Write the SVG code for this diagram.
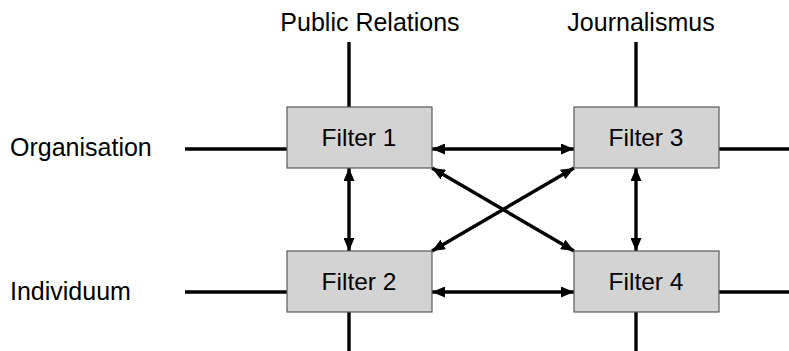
<svg xmlns="http://www.w3.org/2000/svg" width="789" height="351" viewBox="0 0 789 351">
  <defs>
    <marker id="tip" viewBox="0 0 13 11" refX="13" refY="5.5" markerWidth="13" markerHeight="11" markerUnits="userSpaceOnUse" orient="auto-start-reverse">
      <path d="M0,0 L13,5.5 L0,11 Z" fill="#000"/>
    </marker>
  </defs>
  <style>
    .lbl { font-family: "Liberation Sans", Arial, sans-serif; font-size: 25px; fill: #000; }
    .flt { font-family: "Liberation Sans", Arial, sans-serif; font-size: 24.5px; fill: #000; }
    .box { fill: #d3d3d3; stroke: #5a5a5a; stroke-width: 1.2; }
    .ln { stroke: #000; stroke-width: 3.4; fill: none; }
    .arr { stroke: #000; stroke-width: 3.4; fill: none; marker-start: url(#tip); marker-end: url(#tip); }
  </style>
  <rect width="789" height="351" fill="#fff"/>

  <!-- axis labels -->
  <text class="lbl" x="370" y="31" text-anchor="middle">Public Relations</text>
  <text class="lbl" x="641" y="31" text-anchor="middle">Journalismus</text>
  <text class="lbl" x="10" y="156">Organisation</text>
  <text class="lbl" x="10" y="300">Individuum</text>

  <g id="connectors">
    <!-- outer lines -->
    <line class="ln" x1="349" y1="42" x2="349" y2="107"/>
    <line class="ln" x1="636" y1="42" x2="636" y2="107"/>
    <line class="ln" x1="185" y1="149" x2="287" y2="149"/>
    <line class="ln" x1="185" y1="292" x2="287" y2="292"/>
    <line class="ln" x1="719" y1="149" x2="789" y2="149"/>
    <line class="ln" x1="719" y1="292" x2="789" y2="292"/>
    <line class="ln" x1="349" y1="312" x2="349" y2="351"/>
    <line class="ln" x1="636" y1="312" x2="636" y2="351"/>
    <!-- links between filters -->
    <line class="arr" x1="432" y1="149" x2="574" y2="149"/>
    <line class="arr" x1="432" y1="292" x2="574" y2="292"/>
    <line class="arr" x1="349" y1="168" x2="349" y2="251"/>
    <line class="arr" x1="636" y1="168" x2="636" y2="251"/>
    <line class="arr" x1="432" y1="168" x2="574" y2="251"/>
    <line class="arr" x1="574" y1="168" x2="432" y2="251"/>
  </g>

  <g id="filter1">
    <rect class="box" x="287" y="107" width="145" height="61"/>
    <text class="flt" x="359" y="146" text-anchor="middle">Filter 1</text>
  </g>
  <g id="filter3">
    <rect class="box" x="574" y="107" width="145" height="61"/>
    <text class="flt" x="646" y="146" text-anchor="middle">Filter 3</text>
  </g>
  <g id="filter2">
    <rect class="box" x="287" y="251" width="145" height="61"/>
    <text class="flt" x="359" y="290" text-anchor="middle">Filter 2</text>
  </g>
  <g id="filter4">
    <rect class="box" x="574" y="251" width="145" height="61"/>
    <text class="flt" x="646" y="290" text-anchor="middle">Filter 4</text>
  </g>
</svg>
